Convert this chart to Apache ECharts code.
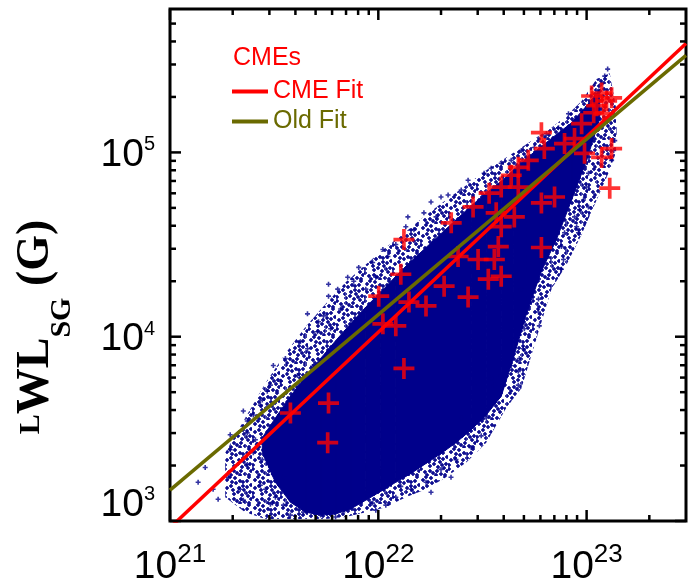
<!DOCTYPE html>
<html><head><meta charset="utf-8">
<script src="https://cdn.jsdelivr.net/npm/echarts@6/dist/echarts.min.js"></script>
<style>html,body{margin:0;padding:0;background:#fff}#c{width:694px;height:587px}</style>
</head><body><div id="c"></div>
<script>
// ---- axis ranges and tick values ----
const xRange = [1e21, 3e23];
const yRange = [1e3, 6e5];
const xMajorTicks = [1e21, 1e22, 1e23];
const xMinorTicks = [2e21,3e21,4e21,5e21,6e21,7e21,8e21,9e21,2e22,3e22,4e22,5e22,6e22,7e22,8e22,9e22,2e23];
const yMajorTicks = [1e3, 1e4, 1e5];
const yMinorTicks = [2e3,3e3,4e3,5e3,6e3,7e3,8e3,9e3,2e4,3e4,4e4,5e4,6e4,7e4,8e4,9e4,2e5,3e5,4e5,5e5];

// ---- fit lines (end points) ----
const cmeFitX = [1e21, 3e23];
const cmeFitY = [920, 3.9e5];
const oldFitX = [1e21, 3e23];
const oldFitY = [1470, 3.36e5];

// ---- CME events: [log10 x, log10 y] ----
const cmePoints = [
[21.578,3.586],[21.761,3.640],[21.757,3.425],[22.123,3.828],[22.002,4.220],[22.108,4.339],[22.022,4.070],
[22.084,4.059],[22.147,4.188],[22.229,4.167],[22.316,4.274],[22.431,4.215],[22.479,4.419],[22.528,4.312],
[22.383,4.435],[22.123,4.527],[22.350,4.618],[22.783,5.107],[22.976,5.156],[23.024,5.306],[23.072,5.322],
[23.048,5.253],[23.096,5.279],[23.034,5.215],[23.082,5.210],[23.120,5.296],[23.120,5.021],[23.072,4.973],
[22.990,4.995],[22.942,5.075],[22.894,5.048],[22.797,5.021],[22.720,4.957],[22.672,4.919],[22.638,4.876],
[22.590,4.812],[22.532,4.779],[22.455,4.704],[22.672,4.812],[22.846,4.758],[22.783,4.726],[22.653,4.650],
[22.590,4.597],[22.576,4.489],[22.557,4.419],[22.590,4.328],[22.783,4.484],[23.111,4.806],[22.566,4.672]
];

// ---- full sample, dense core: per column log10 x, lower and upper log10 y ----
const coreLogX  = [21.443,21.506,21.578,21.651,21.723,21.795,21.867,21.940,22.012,22.084,22.157,22.229,22.301,22.373,22.446,22.518,22.590,22.648,22.711,22.783,22.855,22.928,23.000,23.063];
const coreLogLo = [3.371,3.210,3.102,3.048,3.032,3.038,3.065,3.113,3.161,3.210,3.258,3.312,3.366,3.425,3.495,3.575,3.677,3.882,4.124,4.355,4.527,4.742,4.957,5.183];
const coreLogHi = [3.452,3.559,3.677,3.785,3.882,3.978,4.070,4.161,4.242,4.328,4.409,4.484,4.559,4.634,4.710,4.779,4.844,4.903,4.968,5.032,5.097,5.161,5.253,5.344];

// ---- full sample, scattered zone around the core: per column log10 x, lower and upper log10 y ----
const haloLogX  = [21.265,21.361,21.458,21.554,21.651,21.747,21.843,21.940,22.036,22.132,22.229,22.325,22.422,22.518,22.614,22.687,22.759,22.831,22.904,22.976,23.048,23.111,23.144];
const haloLogLo = [3.129,3.048,3.011,3.011,3.011,3.011,3.022,3.048,3.075,3.129,3.172,3.237,3.317,3.425,3.613,3.720,3.989,4.258,4.392,4.554,4.742,4.903,5.011];
const haloLogHi = [3.371,3.559,3.747,3.909,4.054,4.177,4.296,4.392,4.484,4.570,4.661,4.742,4.822,4.903,4.973,5.027,5.081,5.134,5.199,5.279,5.398,5.430,5.226];

// ---- full sample, outlying points: [log10 x, log10 y] ----
const samplePoints = [
[21.289,3.387],[21.337,3.172],[21.352,3.113],[21.280,3.237],[21.371,3.478],[21.410,3.441],[21.434,3.194],[21.458,3.172],
[21.506,3.129],[21.545,3.086],[21.496,3.253],[21.443,3.333],[21.400,3.371],[21.371,3.306],[21.207,3.172],[21.231,3.118],
[21.467,3.387],[21.482,3.495],[21.492,3.097],[21.641,3.048],[21.723,3.032],[21.838,3.059],[21.940,3.151],[21.973,3.097],
[22.108,3.188],[21.352,3.597],[21.443,3.656],[21.482,3.737],[21.400,3.575],[21.289,3.468],[21.482,3.091],[21.419,3.414],
[21.545,3.237],[21.169,3.290],[21.135,3.210],[21.578,3.032],[21.795,3.022],
[21.660,4.124],[21.713,4.081],[21.761,4.285],[21.805,4.258],[21.761,4.220],[21.853,4.323],[21.906,4.376],[21.882,4.301],
[21.973,4.403],[22.022,4.473],[22.046,4.435],[22.084,4.500],[22.132,4.597],[22.171,4.581],[22.253,4.731],[22.277,4.650],
[22.335,4.769],[22.219,4.672],[22.142,4.650],[21.771,4.043],[21.626,3.973],[21.554,3.882],[21.496,3.844],[21.530,3.758],
[21.434,3.629],[21.467,3.704],[21.660,3.935],[21.737,4.113],[21.708,4.027],[21.371,3.543],[21.578,3.720],[21.612,3.790],
[21.684,3.839],[21.819,4.150],[21.940,4.258],[21.988,4.323],
[23.087,5.414],[23.072,5.371],[23.058,5.333],[22.942,5.172],[22.913,5.210],[22.865,5.134],[22.749,5.027],[22.638,4.957],
[22.590,4.941],[22.508,4.887],[22.431,4.849],[22.398,4.796],[22.301,4.758],[23.101,5.452],[22.976,5.226],[22.807,5.102],
[22.687,5.011],[22.542,4.914],
[23.135,5.064],[23.130,5.011],[23.120,4.957],[23.009,4.887],[23.000,4.812],[22.985,4.742],[22.966,4.688],[22.942,4.650],
[22.952,4.597],[22.961,4.564],[22.894,4.564],[22.879,4.489],[22.889,4.419],[22.879,4.366],[23.009,4.704],[22.769,4.204],
[22.769,4.134],[22.773,4.059],[22.687,4.258],[22.701,4.043],[22.696,3.935],[22.677,3.882],[22.672,3.737],[22.638,3.844],
[22.590,3.790],[22.542,3.774],[22.557,3.737],[22.460,3.737],[22.672,3.812],
[22.157,3.172],[22.229,3.210],[22.301,3.280],[22.373,3.333],[22.446,3.398],[22.494,3.462],[22.084,3.129],[22.036,3.086],
[21.988,3.059],[22.349,3.237],[22.253,3.156],[22.398,3.559],[22.518,3.559]
];

// ---- build library data ----
const pow = v => Math.pow(10, v);
const cmeData = cmePoints.map(p => [pow(p[0]), pow(p[1])]);
const sampleData = samplePoints.map(p => [pow(p[0]), pow(p[1])]);
function bandData(lx, lo, hi) {
  const out = [];
  for (let i = 0; i < lx.length - 1; i++) {
    out.push([pow(lx[i]), pow(lo[i]), pow(hi[i]), pow(lx[i+1]), pow(lo[i+1]), pow(hi[i+1])]);
  }
  return out;
}
const coreData = bandData(coreLogX, coreLogLo, coreLogHi);
const haloData = bandData(haloLogX, haloLogLo, haloLogHi);
const tickData = [];
xMajorTicks.forEach(v => tickData.push([v, yRange[0], 0]));
xMinorTicks.forEach(v => tickData.push([v, yRange[0], 1]));
yMajorTicks.forEach(v => tickData.push([xRange[0], v, 2]));
yMinorTicks.forEach(v => tickData.push([xRange[0], v, 3]));

const NAVY = '#00008b', RED = '#ff0000', OLIVE = '#6a6a00';
const PLUS_BIG = 'path://M0,41.25H41.25V0H58.75V41.25H100V58.75H58.75V100H41.25V58.75H0Z';
const PLUS_SMALL = 'path://M0,34H34V0H66V34H100V66H66V100H34V66H0Z';
const SANS = 'Liberation Sans';
const SERIF = 'Liberation Serif';

// speckle texture (style only) for the scattered zone of the sample
function makeSpeckle() {
  const size = 28;
  const spots = [[3,4],[11,2],[19,6],[25,1],[7,10],[15,12],[23,11],[1,17],[10,18],[18,19],[26,16],[5,24],
                 [13,25],[21,26],[27,23],[16,5],[9,14],[20,14],[3,12],[12,7],[24,20],[7,27],[17,23],[23,5],
                 [6,1],[14,16],[27,9],[1,21],[10,23],[19,10],[25,27],[8,6],[16,27],[22,17]];
  const c = document.createElement('canvas'); c.width = c.height = size;
  const g = c.getContext('2d'); g.fillStyle = NAVY;
  spots.forEach(([x, y]) => { g.fillRect(x - 2, y - 0.75, 4, 1.5); g.fillRect(x - 0.75, y - 2, 1.5, 4); });
  return c;
}
const speckle = {image: makeSpeckle(), repeat: 'repeat'};

function powLabel(v) {
  const e = Math.log10(v);
  const r = Math.round(e);
  if (Math.abs(e - r) > 1e-6) return '';
  return '{a|10}{s|' + r + '}';
}
function yPowLabel(v) {
  const s = powLabel(v);
  if (s && Math.abs(v - yRange[0]) < 1e-6) return s + '\n{z| }';
  return s;
}

function bandRenderer(fill, stroked) {
  return function (params, api) {
    const a = api.coord([api.value(0), api.value(2)]);
    const b = api.coord([api.value(3), api.value(5)]);
    const c = api.coord([api.value(3), api.value(4)]);
    const d = api.coord([api.value(0), api.value(1)]);
    const style = stroked ? {fill: fill, stroke: fill, lineWidth: 1} : {fill: fill, lineWidth: 0};
    return {type: 'polygon', shape: {points: [a, b, c, d]}, style: style};
  };
}

// y-axis title, measured piece by piece
const mctx = document.createElement('canvas').getContext('2d');
const titleParts = [
  {t: 'L', size: 30, dy: -5},
  {t: 'WL', size: 46, dy: 0},
  {t: 'SG', size: 30, dy: 26},
  {t: ' (G)', size: 46, dy: 0}
];
let tw = 0;
titleParts.forEach(p => { mctx.font = 'bold ' + p.size + 'px "' + SERIF + '"'; p.w = mctx.measureText(p.t).width; tw += p.w; });
let cx = -tw / 2;
const titleChildren = titleParts.map(p => {
  const el = {type: 'text', x: cx, y: p.dy,
    style: {text: p.t, fontFamily: SERIF, fontWeight: 'bold', fontSize: p.size, fill: '#000', align: 'left', verticalAlign: 'middle'}};
  cx += p.w;
  return el;
});

const chart = echarts.init(document.getElementById('c'), null, {renderer: 'canvas'});
chart.setOption({
  animation: false,
  backgroundColor: '#fff',
  grid: {left: 170, right: 8, top: 9, bottom: 64, show: true, borderColor: '#000', borderWidth: 3, backgroundColor: 'transparent'},
  xAxis: {
    type: 'log', logBase: 10, min: xRange[0], max: xRange[1],
    axisLine: {show: false}, axisTick: {show: false}, splitLine: {show: false},
    axisLabel: {
      margin: 21, formatter: powLabel,
      rich: {
        a: {fontFamily: SANS, fontSize: 39, lineHeight: 45, color: '#000', verticalAlign: 'bottom'},
        s: {fontFamily: SANS, fontSize: 26, color: '#000', verticalAlign: 'top'}
      }
    }
  },
  yAxis: {
    type: 'log', logBase: 10, min: yRange[0], max: yRange[1],
    axisLine: {show: false}, axisTick: {show: false}, splitLine: {show: false},
    axisLabel: {
      margin: 15, formatter: yPowLabel,
      rich: {
        a: {fontFamily: SANS, fontSize: 39, lineHeight: 45, color: '#000', verticalAlign: 'bottom'},
        s: {fontFamily: SANS, fontSize: 20, color: '#000', verticalAlign: 'top', padding: [5, 0, 0, 0]},
        z: {fontSize: 10, lineHeight: 38}
      }
    }
  },
  legend: [
    {data: [{name: 'CMEs', icon: 'none', textStyle: {color: RED}}], left: 228, top: 46, itemWidth: 0, itemHeight: 4,
     padding: 0, selectedMode: false, textStyle: {fontFamily: SANS, fontSize: 25, color: RED}},
    {data: [{name: 'CME Fit', textStyle: {color: RED}}, {name: 'Old Fit', textStyle: {color: OLIVE}}],
     orient: 'vertical', left: 232, top: 79, itemWidth: 36, itemHeight: 4, itemGap: 5, icon: 'rect', padding: 0,
     selectedMode: false, textStyle: {fontFamily: SANS, fontSize: 25}}
  ],
  graphic: [{type: 'group', x: 36.5, y: 327, rotation: Math.PI / 2, z: 100, children: titleChildren}],
  series: [
    {name: 'halo', type: 'custom', z: 1, silent: true, encode: {x: 0, y: 1}, data: haloData,
     renderItem: bandRenderer(speckle, false)},
    {name: 'core', type: 'custom', z: 1, silent: true, encode: {x: 0, y: 1}, data: coreData,
     renderItem: bandRenderer(NAVY, true)},
    {name: 'sample', type: 'scatter', z: 2, silent: true, data: sampleData,
     symbol: PLUS_SMALL, symbolSize: 5, itemStyle: {color: NAVY}},
    {name: 'CMEs', type: 'scatter', z: 3, data: cmeData,
     symbol: PLUS_BIG, symbolSize: 21, itemStyle: {color: RED}},
    {name: 'CME Fit', type: 'line', z: 4, data: cmeFitX.map((x, i) => [x, cmeFitY[i]]),
     showSymbol: false, symbol: 'none', lineStyle: {color: RED, width: 3.5}, itemStyle: {color: RED}, clip: true},
    {name: 'Old Fit', type: 'line', z: 5, data: oldFitX.map((x, i) => [x, oldFitY[i]]),
     showSymbol: false, symbol: 'none', lineStyle: {color: OLIVE, width: 3.5}, itemStyle: {color: OLIVE}, clip: true},
    {name: 'ticks', type: 'custom', z: 10, silent: true, clip: false, encode: {x: 0, y: 1}, data: tickData,
     renderItem: function (params, api) {
       const cs = params.coordSys;
       const kind = api.value(2);
       const len = (kind === 0 || kind === 2) ? 11 : 6;
       const st = () => ({stroke: '#000', lineWidth: 2.5});
       if (kind < 2) {
         const px = api.coord([api.value(0), yRange[0]])[0];
         const yb = cs.y + cs.height, yt = cs.y;
         return {type: 'group', children: [
           {type: 'line', shape: {x1: px, y1: yb, x2: px, y2: yb - len}, style: st()},
           {type: 'line', shape: {x1: px, y1: yt, x2: px, y2: yt + len}, style: st()}
         ]};
       }
       const py = api.coord([xRange[0], api.value(1)])[1];
       const xl = cs.x, xr = cs.x + cs.width;
       return {type: 'group', children: [
         {type: 'line', shape: {x1: xl, y1: py, x2: xl + len, y2: py}, style: st()},
         {type: 'line', shape: {x1: xr, y1: py, x2: xr - len, y2: py}, style: st()}
       ]};
     }}
  ]
});
</script></body></html>
